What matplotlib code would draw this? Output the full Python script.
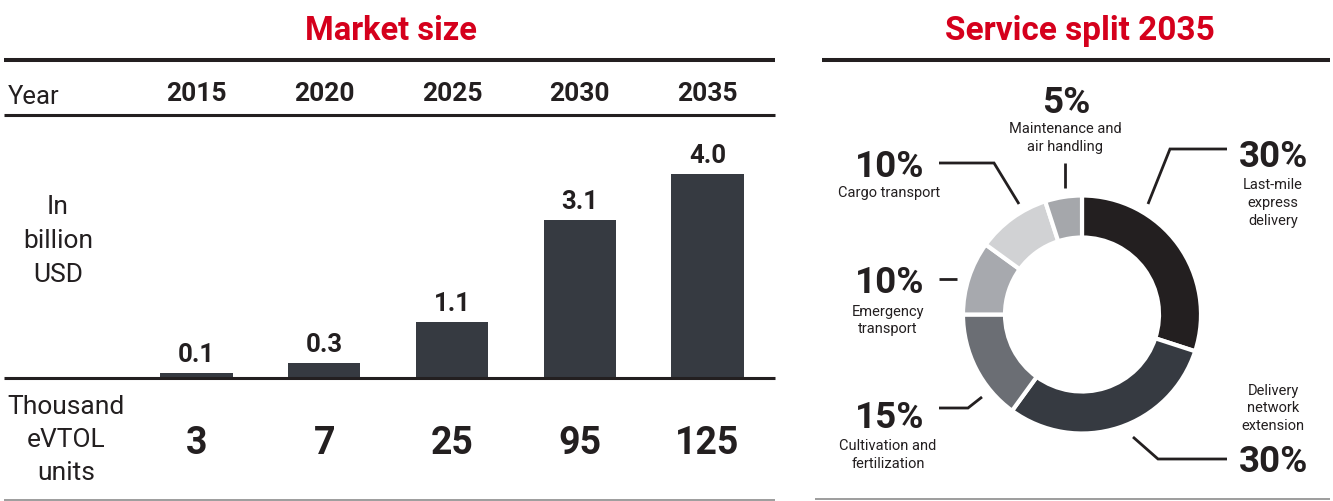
import matplotlib
matplotlib.use('Agg')
import matplotlib.pyplot as plt
from matplotlib.lines import Line2D
from matplotlib.transforms import blended_transform_factory

plt.rcParams['font.family'] = ['Roboto', 'DejaVu Sans']

RED = '#d5001c'
INK = '#231f20'
BAR = '#363a41'

years = ['2015', '2020', '2025', '2030', '2035']
market_usd = [0.1, 0.3, 1.1, 3.1, 4.0]
units_k = [3, 7, 25, 95, 125]

services = ['Last-mile\nexpress\ndelivery', 'Delivery\nnetwork\nextension',
            'Cultivation and\nfertilization', 'Emergency\ntransport',
            'Cargo transport', 'Maintenance and\nair handling']
shares = [30, 30, 15, 10, 10, 5]
colors = ['#231f20', '#363a41', '#6b6e74', '#a7a9ae', '#d1d2d4', '#a5a7ab']

W, H = 1333, 501
fig = plt.figure(figsize=(W / 100, H / 100), dpi=100)


def fx(x):
    return x / W


def fy(y):
    return 1 - y / H


def line(xs, ys, lw=2.0, color=INK):
    fig.add_artist(Line2D([fx(x) for x in xs], [fy(y) for y in ys],
                          transform=fig.transFigure, lw=lw, color=color,
                          solid_capstyle='butt', solid_joinstyle='miter'))


def txt(x, y, s, **kw):
    fig.text(fx(x), fy(y), s, **kw)


# ---- left panel: market size ----
txt(391, 40, 'Market size', color=RED, fontsize=23.5, fontweight='bold',
    ha='center', va='baseline')
line([4, 775], [60, 60], lw=2.9)
line([4, 775], [115, 115], lw=2.2)
line([4, 775], [500, 500], lw=1.2, color='#8c8c8c')

ax = fig.add_axes([fx(4), fy(378), fx(775) - fx(4), (378 - 115) / H])
pos = list(range(len(years)))
ax.bar(pos, market_usd, width=0.565, color=BAR)
ax.set_xlim(-1.507, 4.528)
ax.set_ylim(0, 263 / 51)
ax.axis('off')
line([4, 775], [378, 378], lw=2.2)

for i, v in zip(pos, market_usd):
    ax.annotate(f'{v:.1f}', (i, v), xytext=(0, 8), textcoords='offset points',
                ha='center', va='baseline', fontsize=18.5, fontweight='bold',
                color=INK)

row = blended_transform_factory(ax.transData, fig.transFigure)
for i, y in zip(pos, years):
    ax.text(i, fy(101), y, transform=row, ha='center', va='baseline',
            fontsize=19, fontweight='bold', color=INK)
for i, u in zip(pos, units_k):
    ax.text(i, fy(454), str(u), transform=row, ha='center', va='baseline',
            fontsize=27, fontweight='bold', color=INK)

txt(8, 104, 'Year', fontsize=18.5, color=INK, ha='left', va='baseline')
txt(58, 241, 'In\nbillion\nUSD', fontsize=19, color=INK, ha='center',
    va='center', multialignment='center', linespacing=1.5)
txt(66, 440, 'Thousand\neVTOL\nunits', fontsize=19, color=INK, ha='center',
    va='center', multialignment='center', linespacing=1.5)

# ---- right panel: service split ----
txt(1080, 40, 'Service split 2035', color=RED, fontsize=24, fontweight='bold',
    ha='center', va='baseline')
line([822, 1330], [60, 60], lw=2.9)
line([815, 1330], [499, 499], lw=1.2, color='#8c8c8c')

R = 117.5
pax = fig.add_axes([fx(1082 - 150), fy(314.5 + 150), 300 / W, 300 / H])
pax.pie(shares, colors=colors, startangle=90, counterclock=False,
        radius=1.0 + 1.5 / R,
        wedgeprops=dict(width=(R - 75.5) / R, edgecolor='white', linewidth=3))
pax.set_xlim(-150 / R, 150 / R)
pax.set_ylim(-150 / R, 150 / R)
pax.set_aspect('equal')
pax.axis('off')

# percentage, label, label centre and leader path for each slice
callouts = [
    (1274, 167, 1273, 203, [1227, 1170, 1148], [149, 149, 204]),
    (1274, 472, 1273, 408.5, [1227, 1158, 1133], [459, 459, 437]),
    (890, 428, 888, 455, [939, 968, 982], [408, 408, 397]),
    (890, 293, 888, 320.5, [939, 957], [279, 279]),
    (890, 177, 889, 193, [939, 994, 1019], [163, 163, 204]),
    (1066, 113, 1065, 138, [1065, 1065], [163, 188]),
]
for (px, py, lx, ly, lxs, lys), s, name in zip(callouts, shares, services):
    txt(px, py, f'{s}%', fontsize=26.5, fontweight='bold', color=INK,
        ha='center', va='baseline')
    txt(lx, ly, name, fontsize=10.5, color=INK, ha='center', va='center',
        multialignment='center', linespacing=1.35)
    line(lxs, lys, lw=2.0)

fig.savefig('out.png', dpi=100)
